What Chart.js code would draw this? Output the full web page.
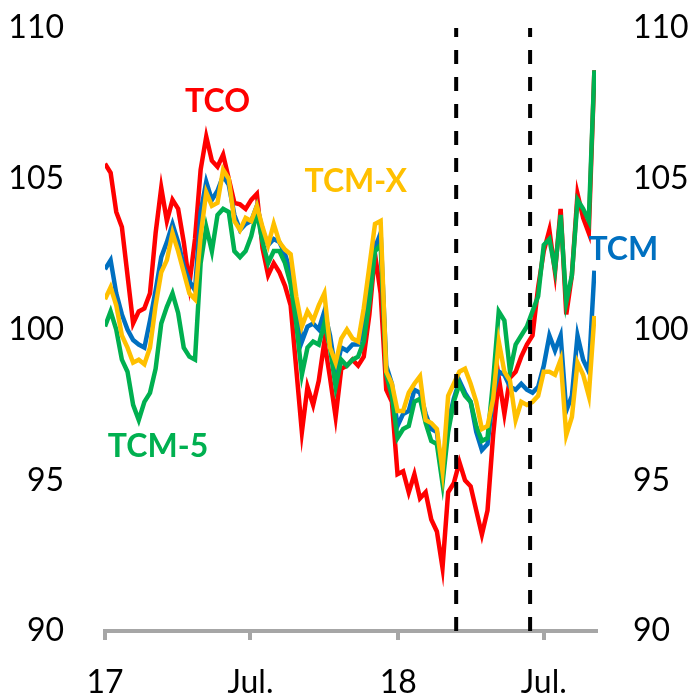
<!DOCTYPE html>
<html>
<head>
<meta charset="utf-8">
<script src="https://cdn.jsdelivr.net/npm/chart.js@4.4.1/dist/chart.umd.min.js"></script>
<style>
    body { margin: 0; background: #fff; }
    #box { width: 691px; height: 698px; }
</style>
</head>
<body>
<div id="box"><canvas id="lineCanvas"></canvas></div>
<script>
// days since 1 Jan 2017, one point per week
const days = [0, 7, 14, 21, 28, 35, 42, 49, 56, 63, 70, 77, 84, 91, 98, 105, 112, 119, 126, 133,
    140, 147, 154, 161, 168, 175, 182, 189, 196, 203, 210, 217, 224, 231, 238, 245, 252, 259, 266, 273,
    280, 287, 294, 301, 308, 315, 322, 329, 336, 343, 350, 357, 364, 371, 378, 385, 392, 399, 406, 413,
    420, 427, 434, 441, 448, 455, 462, 469, 476, 483, 490, 497, 504, 511, 518, 525, 532, 539, 546, 553,
    560, 567, 574, 581, 588, 595, 602, 609];

const tco = [105.5, 105.2, 103.9, 103.4, 101.8, 100.2, 100.6, 100.7, 101.2, 103.2,
    104.7, 103.6, 104.3, 104.0, 102.9, 101.5, 103.0, 105.3, 106.4, 105.6,
    105.4, 105.8, 105.0, 104.2, 104.15, 104.0, 104.3, 104.5, 102.7, 101.8,
    102.2, 101.9, 101.45, 100.8, 98.7, 96.6, 98.1, 97.5, 98.3, 99.6,
    98.4, 97.1, 98.7, 98.8, 99.0, 98.8, 99.1, 100.5, 102.5, 101.2,
    98.0, 97.6, 95.2, 95.3, 94.6, 95.2, 94.4, 94.6, 93.7, 93.3,
    92.1, 94.6, 94.9, 95.6, 95.0, 94.8, 94.0, 93.2, 94.0, 96.5,
    98.4, 97.2, 98.4, 98.6, 99.1, 99.5, 99.8, 101.4, 102.6, 103.3,
    101.9, 104.0, 100.5, 101.8, 104.5, 103.7, 103.2, 108.6];

const tcm = [102.0, 102.3, 101.2, 100.5, 100.0, 99.65, 99.5, 99.4, 100.3, 101.3,
    102.4, 102.9, 103.5, 102.9, 102.1, 101.6, 101.3, 103.9, 104.9, 104.3,
    104.6, 105.1, 104.8, 103.8, 103.3, 103.5, 103.6, 104.1, 103.3, 102.8,
    103.0, 102.9, 102.5, 101.9, 100.8, 99.6, 100.1, 100.2, 100.0, 100.6,
    99.8, 98.6, 99.4, 99.3, 99.5, 99.5, 100.0, 101.2, 102.7, 103.2,
    98.8, 98.2, 96.8, 97.2, 97.3, 98.0, 97.9, 97.2, 96.7, 96.6,
    95.1, 96.9, 97.7, 98.3, 97.9, 97.6, 96.6, 96.0, 96.2, 97.8,
    98.6, 98.5, 98.1, 98.0, 98.2, 98.0, 97.9, 98.1, 98.8, 99.8,
    99.3, 99.8, 97.3, 97.8, 99.8, 99.0, 98.6, 101.95];

const tcm5 = [100.1, 100.6, 100.0, 99.0, 98.6, 97.5, 97.0, 97.6, 97.9, 98.7,
    100.2, 100.75, 101.2, 100.55, 99.4, 99.1, 99.0, 102.2, 103.4, 102.6,
    103.8, 104.0, 103.9, 102.6, 102.4, 102.6, 103.1, 103.9, 102.9, 102.2,
    102.6, 102.6, 102.2, 101.5, 100.2, 98.5, 99.4, 99.6, 99.5, 100.2,
    99.4, 98.1, 99.0, 98.8, 99.0, 99.1, 99.6, 100.9, 102.6, 102.8,
    98.5, 97.8, 96.4, 96.7, 96.8, 97.6, 97.7, 96.9, 96.3, 96.2,
    94.9, 96.6, 97.6, 98.2, 97.8, 97.6, 96.8, 96.3, 96.4, 98.3,
    100.6, 100.3, 98.6, 99.5, 99.8, 100.1, 100.6, 101.1, 102.8, 103.0,
    102.0, 103.8, 100.9, 101.8, 104.3, 104.0, 103.6, 108.6];

const tcmX = [101.0, 101.4, 100.8, 99.8, 99.4, 98.9, 99.0, 98.85, 99.4, 100.8,
    101.9, 102.3, 103.2, 102.6, 101.9, 101.2, 101.0, 103.1, 104.55, 104.1,
    104.2, 105.3, 105.0, 103.6, 103.3, 103.7, 103.6, 104.1, 103.4, 102.8,
    103.5, 102.9, 102.65, 102.5, 101.1, 100.1, 100.6, 100.3, 100.8, 101.2,
    99.4, 98.9, 99.7, 100.0, 99.7, 99.6, 100.7, 102.1, 103.5, 103.6,
    98.6, 98.2, 97.3, 97.3, 97.9, 98.2, 98.45, 97.0, 96.9, 96.7,
    95.3, 97.8, 98.2, 98.6, 98.7, 98.2, 97.6, 96.7, 96.8, 97.7,
    99.6, 98.6, 98.3, 97.0, 97.6, 97.5, 97.6, 97.8, 98.6, 98.6,
    98.5, 99.0, 96.5, 97.1, 98.9, 98.5, 97.8, 100.45];

// vertical markers (days)
const markers = [437, 529];

const tickDays = [0, 181, 365, 546];
const tickLabels = ["17", "Jul.", "18", "Jul."];

function points(values) {
    return days.map(function(d, i) { return { x: d, y: values[i] }; });
}

function series(label, values, color, order) {
    return {
        label: label,
        data: points(values),
        borderColor: color,
        borderWidth: 4.5,
        pointRadius: 0,
        tension: 0,
        fill: false,
        order: order
    };
}

function markerLine(day) {
    return {
        label: "",
        data: [{ x: day, y: 90 }, { x: day, y: 110 }],
        borderColor: "#000",
        borderWidth: 4,
        borderDash: [14, 13],
        pointRadius: 0,
        fill: false,
        order: 0
    };
}

// series names written next to the lines
const nameTags = {
    id: "nameTags",
    afterDatasetsDraw: function(chart) {
        const ctx = chart.ctx;
        const xs = chart.scales.x;
        const ys = chart.scales.y;
        const tags = [
            { text: "TCO", color: "#FF0000", day: 140, value: 107.55 },
            { text: "TCM-X", color: "#FFC000", day: 312, value: 104.9 },
            { text: "TCM", color: "#0070C0", day: 645, value: 102.65 },
            { text: "TCM-5", color: "#00B050", day: 66, value: 96.1 }
        ];
        ctx.save();
        ctx.font = "bold 32px Lato";
        ctx.textAlign = "center";
        ctx.textBaseline = "middle";
        tags.forEach(function(t) {
            ctx.fillStyle = t.color;
            ctx.fillText(t.text, xs.getPixelForValue(t.day), ys.getPixelForValue(t.value));
        });
        ctx.restore();
    }
};

const tickFont = { family: "Lato", size: 32 };

// fixed side widths; drop the extra top/bottom room Chart.js keeps for the labels
function sideFit(width) {
    return function(scale) {
        scale.width = width;
        scale.paddingTop = 0;
        scale.paddingBottom = 0;
    };
}

lineChart = new Chart(document.getElementById("lineCanvas"), {
    type: "line",
    data: {
        datasets: [
            markerLine(markers[0]),
            markerLine(markers[1]),
            series("TCM-X", tcmX, "#FFC000", 1),
            series("TCM-5", tcm5, "#00B050", 2),
            series("TCM", tcm, "#0070C0", 3),
            series("TCO", tco, "#FF0000", 4)
        ]
    },
    options: {
        responsive: true,
        maintainAspectRatio: false,
        animation: false,
        layout: { padding: { top: 28, left: 0, right: 0, bottom: 0 } },
        plugins: { legend: { display: false }, tooltip: { enabled: false } },
        scales: {
            x: {
                type: "linear",
                min: 0,
                max: 611,
                afterBuildTicks: function(scale) {
                    scale.ticks = tickDays.map(function(v) { return { value: v }; });
                },
                afterFit: function(scale) { scale.height = 67; },
                ticks: {
                    autoSkip: false,
                    maxRotation: 0,
                    padding: 23,
                    color: "#000",
                    font: tickFont,
                    callback: function(value, index) { return tickLabels[index]; }
                },
                grid: { display: true, drawOnChartArea: false, drawTicks: true, tickLength: 9, color: "#A6A6A6", lineWidth: 4 },
                border: { display: true, color: "#A6A6A6", width: 4 }
            },
            y: {
                position: "left",
                min: 90,
                max: 110,
                afterFit: sideFit(105),
                ticks: { stepSize: 5, padding: 33, color: "#000", font: tickFont },
                grid: { display: false },
                border: { display: false }
            },
            y2: {
                position: "right",
                min: 90,
                max: 110,
                afterFit: sideFit(95),
                ticks: { stepSize: 5, padding: 29, color: "#000", font: tickFont },
                grid: { display: false },
                border: { display: false }
            }
        }
    },
    plugins: [nameTags]
});
</script>
</body>
</html>
